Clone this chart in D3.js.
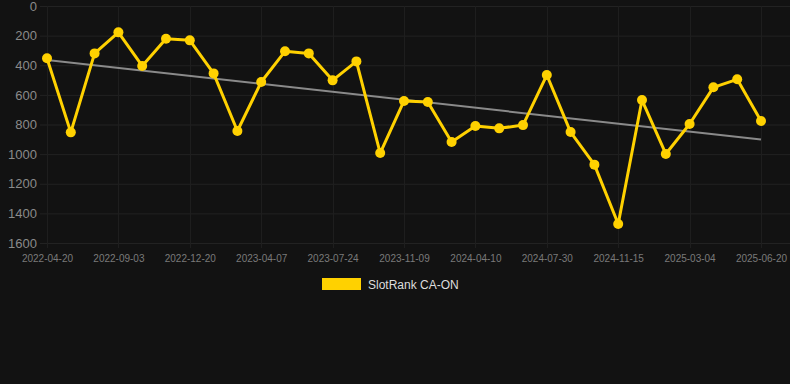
<!DOCTYPE html>
<html>
<head>
<meta charset="utf-8">
<script src="https://cdn.jsdelivr.net/npm/d3@7"></script>
<style>
html,body{margin:0;padding:0;background:#121212;}
svg{display:block;}
</style>
</head>
<body>
<svg id="chart" width="790" height="384"></svg>
<script>
// ---- data ----
const seriesName = "SlotRank CA-ON";
const rankValues = [353, 853, 320, 178, 405, 221, 232, 455, 844, 513, 306, 320, 502, 374, 993,
  641, 648, 918, 810, 826, 804, 466, 851, 1071, 1472, 635, 999, 797, 549, 495, 776];
const tickLabels = ["2022-04-20", "2022-09-03", "2022-12-20", "2023-04-07", "2023-07-24",
  "2023-11-09", "2024-04-10", "2024-07-30", "2024-11-15", "2025-03-04", "2025-06-20"];
const yTicks = [0, 200, 400, 600, 800, 1000, 1200, 1400, 1600];

// ---- layout ----
const W = 790, H = 384;
const plot = {left: 40, right: 790, top: 6, bottom: 243};
const firstX = 47, lastX = 761;

const svg = d3.select("#chart");
svg.append("rect").attr("width", W).attr("height", H).attr("fill", "#121212");

const idx = d3.range(rankValues.length);
const x = d3.scaleLinear().domain([0, rankValues.length - 1]).range([firstX, lastX]);
const y = d3.scaleLinear().domain([0, 1600]).range([plot.top, plot.bottom]);

// label indices: every 3rd point
const tickIdx = tickLabels.map((_, i) => i * 3);

// grid
const grid = svg.append("g");
grid.selectAll("line.h").data(yTicks).join("line")
  .attr("x1", plot.left).attr("x2", plot.right)
  .attr("y1", d => y(d) + 0.5).attr("y2", d => y(d) + 0.5)
  .attr("stroke", "#222").attr("stroke-width", 1);
grid.selectAll("line.v").data(tickIdx).join("line")
  .attr("x1", d => Math.round(x(d)) + 0.5).attr("x2", d => Math.round(x(d)) + 0.5)
  .attr("y1", plot.top).attr("y2", plot.bottom + 5)
  .attr("stroke", "#1e1e1e").attr("stroke-width", 1);

// y axis
const yAxis = d3.axisLeft(y).tickValues(yTicks).tickFormat(d3.format("d")).tickSize(0).tickPadding(0);
const gy = svg.append("g").attr("transform", `translate(37,0)`).call(yAxis);
gy.select(".domain").remove();
gy.selectAll("text").attr("fill", "#8a8a8a").attr("font-size", "13px")
  .attr("font-family", "Liberation Sans, Arial, sans-serif");

// x axis
const xAxis = d3.axisBottom(x).tickValues(tickIdx).tickFormat((d, i) => tickLabels[i]).tickSize(0).tickPadding(0);
const gx = svg.append("g").attr("transform", `translate(0,${plot.bottom + 12})`).call(xAxis);
gx.select(".domain").remove();
gx.selectAll("text").attr("fill", "#7a7a7a").attr("font-size", "10px")
  .attr("font-family", "Liberation Sans, Arial, sans-serif");

// trend line (least squares on data)
const n = rankValues.length;
const mx = d3.mean(idx), my = d3.mean(rankValues);
const slope = d3.sum(idx, i => (i - mx) * (rankValues[i] - my)) / d3.sum(idx, i => (i - mx) * (i - mx));
const icpt = my - slope * mx;
svg.append("line")
  .attr("x1", x(0)).attr("y1", y(icpt))
  .attr("x2", x(n - 1)).attr("y2", y(icpt + slope * (n - 1)))
  .attr("stroke", "#8a8a8a").attr("stroke-width", 2);

// series line
const line = d3.line().x((d, i) => x(i)).y(d => y(d));
svg.append("path").datum(rankValues).attr("d", line)
  .attr("fill", "none").attr("stroke", "#FFD100").attr("stroke-width", 3)
  .attr("stroke-linejoin", "round");

svg.append("g").selectAll("circle").data(rankValues).join("circle")
  .attr("cx", (d, i) => x(i)).attr("cy", d => y(d)).attr("r", 5)
  .attr("fill", "#FFD100");

// legend
const lg = svg.append("g");
lg.append("rect").attr("x", 322).attr("y", 278).attr("width", 39).attr("height", 12).attr("fill", "#FFD100");
lg.append("text").attr("x", 368).attr("y", 288.5).text(seriesName)
  .attr("fill", "#dddddd").attr("font-size", "12px")
  .attr("font-family", "Liberation Sans, Arial, sans-serif");
</script>
</body>
</html>
